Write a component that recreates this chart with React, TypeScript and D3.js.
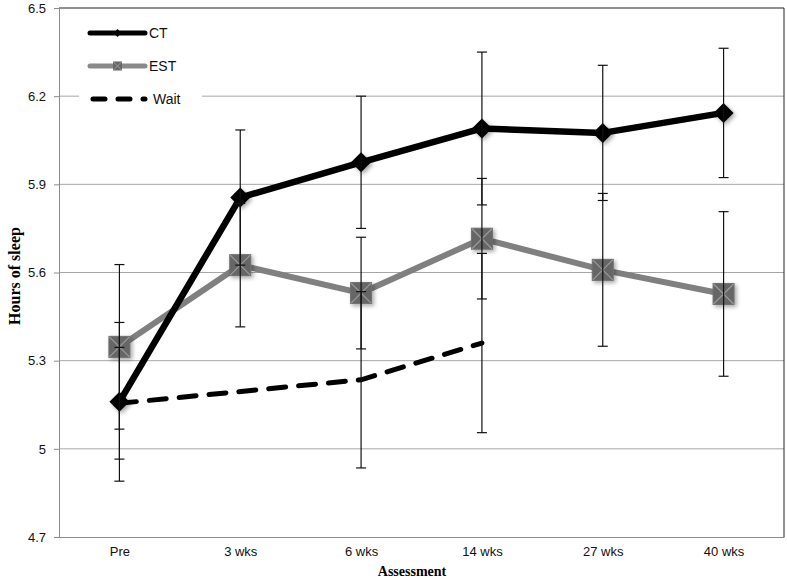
import React, { useEffect, useRef } from "react";
import * as d3 from "d3";

const assessments = ["Pre", "3 wks", "6 wks", "14 wks", "27 wks", "40 wks"];
const ctMeans = [5.16, 5.855, 5.975, 6.09, 6.075, 6.143];
const ctErr = [0.27, 0.23, 0.225, 0.26, 0.23, 0.22];
const estMeans = [5.347, 5.625, 5.53, 5.715, 5.609, 5.527];
const estErr = [0.28, 0.21, 0.19, 0.205, 0.26, 0.28];
const waitMeans: (number | null)[] = [5.155, null, 5.235, 5.36, null, null];
const waitErr: (number | null)[] = [0.19, null, 0.3, 0.305, null, null];
const yTicks = [4.7, 5, 5.3, 5.6, 5.9, 6.2, 6.5];

interface Pt {
  cat: string;
  v: number;
  e: number;
}

const toPts = (means: (number | null)[], errs: (number | null)[]): Pt[] =>
  assessments
    .map((cat, i) => ({ cat, v: means[i], e: errs[i] }))
    .filter((d) => d.v != null)
    .map((d) => ({ cat: d.cat, v: d.v as number, e: (d.e as number) || 0 }));

const App: React.FC = () => {
  const ref = useRef<SVGSVGElement | null>(null);

  useEffect(() => {
    if (!ref.current) return;
    const W = 787,
      H = 581;
    const margin = { top: 8, right: 3, bottom: 44, left: 59 };
    const svg = d3.select(ref.current).attr("width", W).attr("height", H);
    svg.selectAll("*").remove();

    const x = d3
      .scalePoint<string>()
      .domain(assessments)
      .range([margin.left, W - margin.right])
      .padding(0.5);
    const y = d3
      .scaleLinear()
      .domain([4.7, 6.5])
      .range([H - margin.bottom, margin.top]);

    const defs = svg.append("defs");
    const f = defs
      .append("filter")
      .attr("id", "shadow")
      .attr("x", "-50%")
      .attr("y", "-50%")
      .attr("width", "200%")
      .attr("height", "200%");
    f.append("feDropShadow")
      .attr("dx", 2)
      .attr("dy", 2)
      .attr("stdDeviation", 2)
      .attr("flood-color", "#000")
      .attr("flood-opacity", 0.35);

    const x0 = margin.left,
      x1 = W - margin.right;

    // gridlines
    svg
      .append("g")
      .selectAll("line")
      .data(yTicks.slice(1, -1))
      .join("line")
      .attr("x1", x0)
      .attr("x2", x1)
      .attr("y1", (d) => y(d))
      .attr("y2", (d) => y(d))
      .attr("stroke", "#a6a6a6")
      .attr("stroke-width", 1);

    // plot border top/right
    svg
      .append("path")
      .attr("d", `M${x0},${y(6.5)}H${x1}V${y(4.7)}`)
      .attr("fill", "none")
      .attr("stroke", "#222")
      .attr("stroke-width", 1);

    // y axis
    const yAxis = svg
      .append("g")
      .attr("transform", `translate(${x0},0)`)
      .call(
        d3
          .axisLeft(y)
          .tickValues(yTicks)
          .tickSize(5)
          .tickFormat((d) => String(d))
      );
    yAxis.select(".domain").attr("stroke", "#8c8c8c");
    yAxis.selectAll(".tick line").attr("stroke", "#8c8c8c");
    yAxis
      .selectAll(".tick text")
      .attr("x", -13)
      .attr("fill", "#111")
      .style("font-family", "Liberation Sans, Arial, sans-serif")
      .style("font-size", "13px");

    // x axis
    const xAxis = svg
      .append("g")
      .attr("transform", `translate(0,${y(4.7)})`)
      .call(d3.axisBottom(x).tickSize(0).tickSizeOuter(0));
    xAxis.select(".domain").attr("stroke", "#8c8c8c");
    xAxis
      .selectAll(".tick text")
      .attr("y", 10)
      .attr("fill", "#111")
      .style("font-family", "Liberation Sans, Arial, sans-serif")
      .style("font-size", "13px");

    // axis titles
    svg
      .append("text")
      .attr("x", 412)
      .attr("y", 576)
      .attr("text-anchor", "middle")
      .style("font-family", "Liberation Serif, Times New Roman, serif")
      .style("font-weight", "bold")
      .style("font-size", "14px")
      .text("Assessment");
    svg
      .append("text")
      .attr("transform", `translate(20,276) rotate(-90)`)
      .attr("text-anchor", "middle")
      .style("font-family", "Liberation Serif, Times New Roman, serif")
      .style("font-weight", "bold")
      .style("font-size", "16px")
      .text("Hours of sleep");

    const ct = toPts(ctMeans, ctErr);
    const est = toPts(estMeans, estErr);
    const wait = toPts(waitMeans, waitErr);

    const line = d3
      .line<Pt>()
      .x((d) => x(d.cat) as number)
      .y((d) => y(d.v));

    svg
      .append("path")
      .datum(est)
      .attr("d", line)
      .attr("fill", "none")
      .attr("stroke", "#808080")
      .attr("stroke-width", 6);
    svg
      .append("path")
      .datum(wait)
      .attr("d", line)
      .attr("fill", "none")
      .attr("stroke", "#000")
      .attr("stroke-width", 5)
      .attr("stroke-linecap", "round")
      .attr("stroke-dasharray", "17 13");
    svg
      .append("path")
      .datum(ct)
      .attr("d", line)
      .attr("fill", "none")
      .attr("stroke", "#000")
      .attr("stroke-width", 6.5)
      .attr("stroke-linejoin", "round");

    // markers
    const diamond = (s: number) => `M0,${-s}L${s},0L0,${s}L${-s},0Z`;
    svg
      .append("g")
      .selectAll("path")
      .data(ct)
      .join("path")
      .attr("transform", (d) => `translate(${x(d.cat)},${y(d.v)})`)
      .attr("d", diamond(10))
      .attr("fill", "#000")
      .attr("filter", "url(#shadow)");

    const sq = svg
      .append("g")
      .selectAll("g")
      .data(est)
      .join("g")
      .attr("transform", (d) => `translate(${x(d.cat)},${y(d.v)})`)
      .attr("filter", "url(#shadow)");
    sq.append("rect")
      .attr("x", -10.5)
      .attr("y", -10.5)
      .attr("width", 21)
      .attr("height", 21)
      .attr("fill", "#666")
      .attr("stroke", "#707070")
      .attr("stroke-width", 1);
    sq.append("path")
      .attr("d", "M-10,-10L10,10M10,-10L-10,10")
      .attr("stroke", "#9a9a9a")
      .attr("stroke-width", 1.2);

    // error bars
    const eb = svg.append("g").attr("stroke", "#111").attr("stroke-width", 1.2);
    [...ct, ...est, ...wait].forEach((d) => {
      const cx = x(d.cat) as number;
      const yt = y(d.v + d.e),
        yb = y(d.v - d.e);
      eb.append("line").attr("x1", cx).attr("x2", cx).attr("y1", yt).attr("y2", yb);
      eb.append("line").attr("x1", cx - 5).attr("x2", cx + 5).attr("y1", yt).attr("y2", yt);
      eb.append("line").attr("x1", cx - 5).attr("x2", cx + 5).attr("y1", yb).attr("y2", yb);
    });

    // legend
    const lg = svg.append("g");
    lg.append("rect")
      .attr("x", 79)
      .attr("y", 16)
      .attr("width", 123)
      .attr("height", 100)
      .attr("fill", "#fff");
    const lx0 = 90,
      lx1 = 145;
    const lmid = (lx0 + lx1) / 2;
    const labelStyle = (t: d3.Selection<SVGTextElement, unknown, null, undefined>) =>
      t
        .style("font-family", "Liberation Sans, Arial, sans-serif")
        .style("font-size", "14px")
        .attr("fill", "#111")
        .attr("dominant-baseline", "central");

    lg.append("line")
      .attr("x1", lx0)
      .attr("x2", lx1)
      .attr("y1", 33)
      .attr("y2", 33)
      .attr("stroke", "#000")
      .attr("stroke-width", 5)
      .attr("stroke-linecap", "round");
    lg.append("path")
      .attr("transform", `translate(${lmid},33)`)
      .attr("d", diamond(4))
      .attr("fill", "#000");
    lg.append("text").attr("x", 149).attr("y", 33).text("CT").call(labelStyle);

    lg.append("line")
      .attr("x1", lx0)
      .attr("x2", lx1)
      .attr("y1", 66)
      .attr("y2", 66)
      .attr("stroke", "#8a8a8a")
      .attr("stroke-width", 5)
      .attr("stroke-linecap", "round");
    lg.append("rect")
      .attr("x", lmid - 4.5)
      .attr("y", 61.5)
      .attr("width", 9)
      .attr("height", 9)
      .attr("fill", "#666");
    lg.append("path")
      .attr("d", `M${lmid - 4},62L${lmid + 4},70M${lmid + 4},62L${lmid - 4},70`)
      .attr("stroke", "#9a9a9a")
      .attr("stroke-width", 1);
    lg.append("text").attr("x", 149).attr("y", 66).text("EST").call(labelStyle);

    lg.append("line")
      .attr("x1", lx0 + 3)
      .attr("x2", lx1)
      .attr("y1", 99)
      .attr("y2", 99)
      .attr("stroke", "#000")
      .attr("stroke-width", 5)
      .attr("stroke-linecap", "round")
      .attr("stroke-dasharray", "12 13");
    lg.append("text").attr("x", 153).attr("y", 99).text("Wait").call(labelStyle);
  }, []);

  return <svg ref={ref} style={{ position: "absolute", left: 0, top: 0 }} />;
};

export default App;
